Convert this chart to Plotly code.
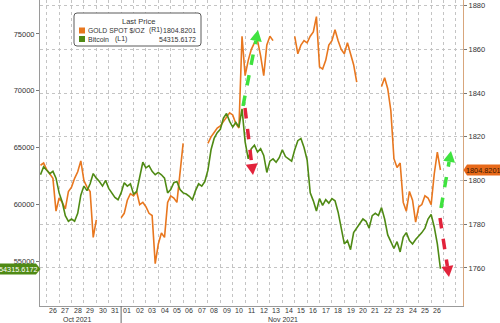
import math
import pandas as pd
import plotly.graph_objects as go

# 6-hourly samples, 25 Oct 2021 12:00 to 26 Nov 2021 18:00
times = pd.date_range("2021-10-25 12:00", periods=130, freq="6h")

gold = [
    1807, 1808, 1805, 1803, 1801, 1786, 1792, 1790, 1787, 1795,
    1797, 1801, 1804, 1809, 1800, 1797, 1795, 1774, 1782,
    None, None, None, None, None, None, None,
    1783, 1785, 1791, 1794, 1793, 1795, 1789, 1790, 1788, 1785,
    1784, 1762, 1771, 1776, 1774, 1790, 1793, 1792, 1790, 1805, 1817,
    None, None, None, None, None, None, None,
    1817, 1820, 1822, 1824, 1825, 1827, 1829, 1831, 1830, 1826,
    1824, 1866, 1848, 1855, 1860, 1863, 1864, 1857, 1848, 1862, 1866, 1864,
    None, None, None, None, None, None,
    1866, 1858, 1862, 1864, 1863, 1866, 1868, 1875, 1852, 1851,
    1855, 1862, 1864, 1869, 1864, 1860, 1858, 1863, 1858, 1853, 1845,
    None, None, None, None, None, None, None,
    1843, 1847, 1842, 1832, 1810, 1806, 1808, 1790, 1786, 1795,
    1791, 1781, 1788, 1789, 1793, 1792, 1789, 1803, 1813, 1804.8201,
]

bitcoin = [
    62600, 63300, 63000, 62700, 62900, 62300, 61000, 60200, 59000, 58500,
    58700, 58500, 59200, 60800, 61600, 61200, 61800, 62700, 62300, 62000,
    61600, 62100, 61400, 61000, 60600, 60400, 61000, 61900, 61600, 61800,
    60900, 61100, 62400, 63700, 63200, 63400, 62900, 62600, 62800, 62600,
    62300, 61000, 61300, 61900, 62000, 61300, 61000, 60900, 60700, 60400,
    61200, 61800, 61600, 62000, 63000, 64800, 65800, 66300, 66600, 67600,
    68000, 67300, 66800, 67200, 66800, 68400, 65500, 64000, 64900, 65200,
    64600, 64900, 64300, 62800, 63800, 64000, 63700, 64100, 64800, 64200,
    64000, 63800, 64800, 65600, 65800, 65000, 63900, 61000, 60300, 59400,
    60500, 59900, 60400, 60100, 60500, 60300, 59300, 57800, 56500, 56800,
    56000, 57500, 57900, 58400, 58700, 58500, 57900, 59000, 59200, 59000,
    59700, 58700, 57300, 56700, 56100, 56700, 55800, 57100, 57500, 56800,
    56500, 56900, 57200, 57500, 57900, 58700, 59100, 58000, 56500, 54315.6172,
]

gold_last = "1804.8201"
btc_last = "54315.6172"

day_ticks = pd.date_range("2021-10-26 12:00", "2021-11-26 12:00", freq="D")
day_labels = [d.strftime("%d") for d in day_ticks]
month_labels = ["Oct 2021", "Nov 2021"]
gold_ticks = [1760, 1780, 1800, 1820, 1840, 1860, 1880]
btc_ticks = [55000, 60000, 65000, 70000, 75000]

GOLD_C = "#e8771f"
BTC_C = "#4f8a14"
ARROW_G = "#3fe23f"
ARROW_R = "#e2233b"
FONT = "Liberation Sans"
TXT = "#333"

W, H = 500, 323
L, R, T, B = 40, 37, 0, 17
PW, PH = W - L - R, H - T - B


def px(x):
    return (x - L) / PW


def py(y):
    return (T + PH - y) / PH


fig = go.Figure()
fig.add_trace(go.Scatter(x=times, y=gold, mode="lines", yaxis="y",
                         line=dict(color=GOLD_C, width=1.6), connectgaps=False,
                         name="GOLD SPOT $/OZ"))
fig.add_trace(go.Scatter(x=times, y=bitcoin, mode="lines", yaxis="y2",
                         line=dict(color=BTC_C, width=1.6), name="Bitcoin"))

shapes = []
annotations = []


def path_shape(points, fill, line_color=None, width=0):
    d = "M " + " L ".join(f"{px(x):.5f},{py(y):.5f}" for x, y in points) + " Z"
    return dict(type="path", xref="paper", yref="paper", path=d,
                fillcolor=fill, line=dict(color=line_color or fill, width=width),
                layer="above")


def dashed_arrow(x0, y0, x1, y1, color):
    dx, dy = x1 - x0, y1 - y0
    n = math.hypot(dx, dy)
    ux, uy = dx / n, dy / n
    head, half = 11, 6
    bx, by = x1 - head * ux, y1 - head * uy
    shapes.append(dict(type="line", xref="paper", yref="paper",
                       x0=px(x0), y0=py(y0), x1=px(bx), y1=py(by),
                       line=dict(color=color, width=3.5, dash="dash"), layer="above"))
    shapes.append(path_shape([(x1, y1), (bx - half * uy, by + half * ux),
                              (bx + half * uy, by - half * ux)], color))


dashed_arrow(243, 106, 258, 30, ARROW_G)
dashed_arrow(245, 108, 253, 175, ARROW_R)
dashed_arrow(441, 208, 451, 151, ARROW_G)
dashed_arrow(440, 218, 449, 277, ARROW_R)

# month separator under the axis
shapes.append(dict(type="line", xref="x", yref="paper", x0="2021-11-01", x1="2021-11-01",
                   y0=0, y1=py(H), line=dict(color="#666", width=1)))

# legend box
r = 3
x0b, x1b, y0b, y1b = 74, 201, 13, 46
box = (f"M {px(x0b + r)},{py(y0b)} L {px(x1b - r)},{py(y0b)} "
       f"Q {px(x1b)},{py(y0b)} {px(x1b)},{py(y0b + r)} L {px(x1b)},{py(y1b - r)} "
       f"Q {px(x1b)},{py(y1b)} {px(x1b - r)},{py(y1b)} L {px(x0b + r)},{py(y1b)} "
       f"Q {px(x0b)},{py(y1b)} {px(x0b)},{py(y1b - r)} L {px(x0b)},{py(y0b + r)} "
       f"Q {px(x0b)},{py(y0b)} {px(x0b + r)},{py(y0b)} Z")
shapes.append(dict(type="path", xref="paper", yref="paper", path=box,
                   fillcolor="white", line=dict(color="#5a5a5a", width=1), layer="above"))
shapes.append(dict(type="rect", xref="paper", yref="paper", x0=px(79), x1=px(85),
                   y0=py(27.5), y1=py(33.5), fillcolor=GOLD_C, line=dict(width=0), layer="above"))
shapes.append(dict(type="rect", xref="paper", yref="paper", x0=px(79), x1=px(85),
                   y0=py(36), y1=py(42), fillcolor=BTC_C, line=dict(width=0), layer="above"))


def text(x, y, s, anchor="left", size=7, color=TXT, xref="paper"):
    annotations.append(dict(xref=xref, yref="paper", x=px(x) if xref == "paper" else x,
                            y=py(y), text=s, showarrow=False, xanchor=anchor,
                            yanchor="middle", font=dict(family=FONT, size=size, color=color),
                            borderpad=0))


text(138, 21.5, "Last Price", anchor="center", size=7.5)
text(86.5, 30.5, "GOLD SPOT $/OZ", size=6.8)
text(148, 30.5, "(R1)", size=6.8)
text(197, 30.5, gold_last, anchor="right")
text(86.5, 39, "Bitcoin")
text(114, 39, "(L1)")
text(197, 39, btc_last, anchor="right")

# last-value tags on both axes
shapes.append(path_shape([(0, 263.5), (36, 263.5), (40.5, 269), (36, 274.5), (0, 274.5)], BTC_C))
text(18.5, 269.2, btc_last, anchor="center", size=7.3, color="white")
shapes.append(path_shape([(463.5, 170), (467, 164.5), (500, 164.5), (500, 175.5), (467, 175.5)], "#e86a1a"))
text(483.5, 170.2, gold_last, anchor="center", size=7.3, color="#3a1600")

# day labels and month labels under the axis
for d, lab in zip(day_ticks, day_labels):
    text(d, 310.6, lab, anchor="center", size=7, xref="x")
text(77, 319.2, month_labels[0], anchor="center", size=7)
text(283, 319.2, month_labels[1], anchor="center", size=7)

fig.update_layout(
    width=W, height=H, margin=dict(l=L, r=R, t=T, b=B),
    paper_bgcolor="white", plot_bgcolor="white", showlegend=False,
    font=dict(family=FONT, size=7.5, color=TXT),
    shapes=shapes, annotations=annotations,
    xaxis=dict(range=["2021-10-25 11:00", "2021-11-28 13:40"], tickmode="array",
               tickvals=day_ticks, showticklabels=False, ticks="", showgrid=False,
               showline=True, linecolor="#9a9a9a", zeroline=False,
               minor=dict(tickmode="linear", tick0="2021-10-26", dtick=86400000,
                          showgrid=True, griddash="dot", gridcolor="#c4c4c4", gridwidth=1)),
    yaxis=dict(side="right", range=[1742.6, 1882.6], tickmode="array", tickvals=gold_ticks,
               showgrid=True, griddash="dot", gridcolor="#c4c4c4", zeroline=False,
               ticks="outside", ticklen=3, tickcolor="#777", showline=True,
               linecolor="#d8a67c", tickfont=dict(size=7.5, color=TXT)),
    yaxis2=dict(side="left", overlaying="y", range=[51035, 77995], tickmode="array",
                tickvals=btc_ticks, ticktext=[str(v) for v in btc_ticks],
                showgrid=False, zeroline=False, ticks="outside",
                ticklen=3, tickcolor="#777", showline=True, linecolor="#9a9a9a",
                tickfont=dict(size=7.5, color=TXT)),
)

fig.write_html("out.html")
